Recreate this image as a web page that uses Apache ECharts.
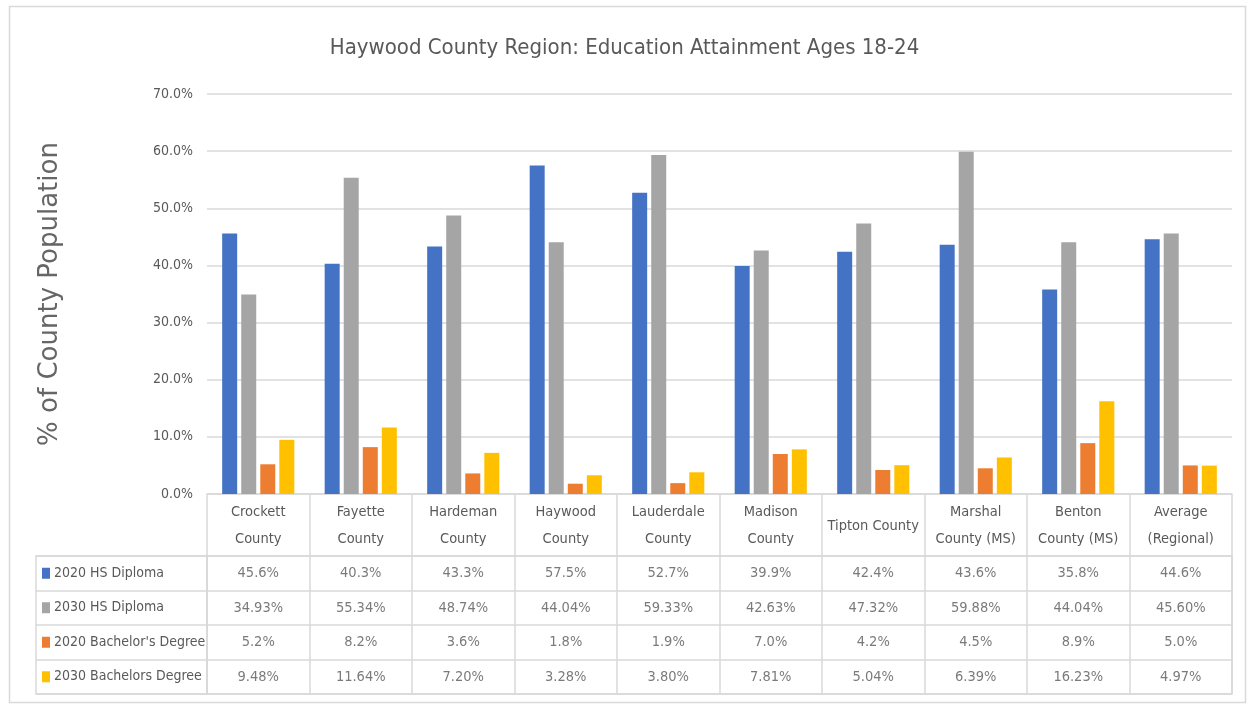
<!DOCTYPE html>
<html>
<head>
<meta charset="utf-8">
<script src="https://cdn.jsdelivr.net/npm/echarts@6/dist/echarts.min.js"></script>
<style>
html,body{margin:0;padding:0;background:#fff;}
#chart{width:1249px;height:704px;}
</style>
</head>
<body>
<div id="chart"></div>
<script>
// ---- data ----
var categories = ['Crockett\nCounty', 'Fayette\nCounty', 'Hardeman\nCounty', 'Haywood\nCounty', 'Lauderdale\nCounty', 'Madison\nCounty', 'Tipton County', 'Marshal\nCounty (MS)', 'Benton\nCounty (MS)', 'Average\n(Regional)'];
var seriesNames = ['2020 HS Diploma', '2030 HS Diploma', "2020 Bachelor's Degree", '2030 Bachelors Degree'];
var hs2020 = [45.6, 40.3, 43.3, 57.5, 52.7, 39.9, 42.4, 43.6, 35.8, 44.6];
var hs2030 = [34.93, 55.34, 48.74, 44.04, 59.33, 42.63, 47.32, 59.88, 44.04, 45.60];
var ba2020 = [5.2, 8.2, 3.6, 1.8, 1.9, 7.0, 4.2, 4.5, 8.9, 5.0];
var ba2030 = [9.48, 11.64, 7.20, 3.28, 3.80, 7.81, 5.04, 6.39, 16.23, 4.97];
var decimals = [1, 2, 1, 2];
var yTicks = {min: 0, max: 70, interval: 10};

var allSeries = [hs2020, hs2030, ba2020, ba2030];
var colors = ['#4472C4', '#A5A5A5', '#ED7D31', '#FFC000'];
var txt = '#595959';
var lineC = '#d9d9d9';
var narrow = '"Liberation Sans Narrow", "DejaVu Sans Condensed", "Open Sans", sans-serif';

var barSeries = allSeries.map(function (vals, i) {
  return {
    name: seriesNames[i], type: 'bar', xAxisIndex: 0, yAxisIndex: 0,
    data: vals, barWidth: 15, barGap: '27%',
    itemStyle: {color: colors[i]}
  };
});

var cellData = [];
allSeries.forEach(function (vals, r) {
  vals.forEach(function (v, c) {
    cellData.push([c, r, v.toFixed(decimals[r]) + '%']);
  });
});

var rich = {};
colors.forEach(function (c, i) {
  rich['s' + i] = {backgroundColor: c, width: 8, height: 11};
});
rich.t = {fontFamily: narrow, fontSize: 14, color: txt, padding: [0, 0, 0, 4]};

var chart = echarts.init(document.getElementById('chart'));
chart.setOption({
  animation: false,
  title: {
    text: 'Haywood County Region: Education Attainment Ages 18-24',
    left: 'center', top: 32,
    textStyle: {fontFamily: narrow, fontSize: 22, fontWeight: 'normal', color: txt}
  },
  graphic: [{
    type: 'rect', left: 7, top: 4,
    shape: {width: 1236, height: 696},
    style: {fill: 'none', stroke: lineC, lineWidth: 1.5}
  }],
  grid: [
    {left: 207, right: 17, top: 94, bottom: 210},
    {left: 207, right: 17, top: 556, bottom: 10, show: true, borderColor: lineC, borderWidth: 1.5},
    {left: 36, width: 171, top: 556, bottom: 10, show: true, borderColor: lineC, borderWidth: 1.5}
  ],
  xAxis: [
    {
      type: 'category', gridIndex: 0, data: categories,
      axisLine: {lineStyle: {color: lineC, width: 1.5}},
      axisTick: {show: true, length: 62, interval: 0, lineStyle: {color: lineC, width: 1.5}},
      axisLabel: {interval: 0, margin: 32, verticalAlign: 'middle', color: txt, fontFamily: narrow, fontSize: 14.5, lineHeight: 27}
    },
    {
      type: 'category', gridIndex: 1, data: categories,
      axisLine: {show: false}, axisTick: {show: false}, axisLabel: {show: false},
      splitLine: {show: true, interval: 0, lineStyle: {color: lineC, width: 1.5}}
    },
    {
      type: 'value', gridIndex: 2, min: 0, max: 1,
      axisLine: {show: false}, axisTick: {show: false}, axisLabel: {show: false}, splitLine: {show: false}
    }
  ],
  yAxis: [
    {
      type: 'value', gridIndex: 0, min: yTicks.min, max: yTicks.max, interval: yTicks.interval,
      name: '% of County Population', nameLocation: 'middle', nameGap: 144,
      nameTextStyle: {fontFamily: '"DejaVu Sans", Verdana, sans-serif', fontSize: 26, color: '#666666'},
      axisLine: {show: false}, axisTick: {show: false},
      axisLabel: {margin: 14, color: txt, fontFamily: narrow, fontSize: 14, formatter: function (v) { return v.toFixed(1) + '%'; }},
      splitLine: {lineStyle: {color: lineC, width: 1.5}}
    },
    {
      type: 'category', gridIndex: 1, data: seriesNames, inverse: true,
      axisLine: {show: false}, axisTick: {show: false}, axisLabel: {show: false},
      splitLine: {show: true, interval: 0, lineStyle: {color: lineC, width: 1.5}}
    },
    {
      type: 'category', gridIndex: 2, data: seriesNames, inverse: true,
      axisLine: {show: false}, axisTick: {show: false},
      splitLine: {show: true, interval: 0, lineStyle: {color: lineC, width: 1.5}},
      axisLabel: {
        inside: true, margin: 6, interval: 0,
        formatter: function (v, i) { return '{s' + i + '|}{t|' + v + '}'; },
        rich: rich
      }
    }
  ],
  series: barSeries.concat([{
    type: 'scatter', xAxisIndex: 1, yAxisIndex: 1,
    data: cellData, symbol: 'rect', symbolSize: 1,
    itemStyle: {color: 'rgba(0,0,0,0)'},
    label: {
      show: true, position: 'inside', color: txt, fontFamily: narrow, fontSize: 14.5,
      formatter: function (p) { return p.value[2]; }
    },
    silent: true
  }])
});
</script>
</body>
</html>
